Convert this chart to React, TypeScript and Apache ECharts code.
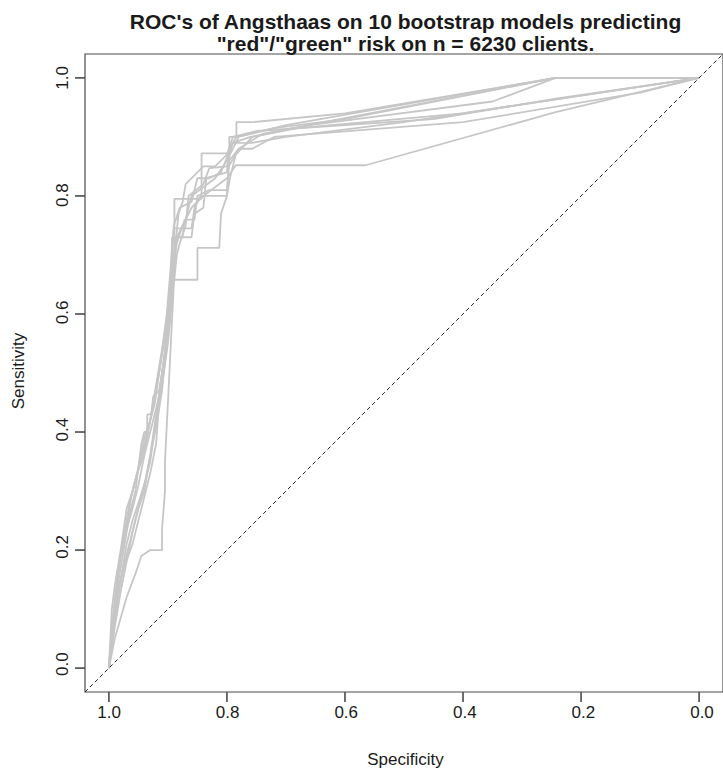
import React, { useEffect, useRef } from "react";
import * as echarts from "echarts";

const titleLines = [
  "ROC's of Angsthaas on 10 bootstrap models predicting",
  "\"red\"/\"green\" risk on n = 6230 clients.",
];
const xAxisTitle = "Specificity";
const yAxisTitle = "Sensitivity";
const tickStep = 0.2;
const specTicks = [1.0, 0.8, 0.6, 0.4, 0.2, 0.0];
const sensTicks = [0.0, 0.2, 0.4, 0.6, 0.8, 1.0];

// Each curve: [specificity, sensitivity]
const roc1: [number, number][] = [[1,0],[0.995,0.06],[0.985,0.14],[0.975,0.2],[0.965,0.26],[0.955,0.3],[0.95,0.34],[0.945,0.38],[0.94,0.40],[0.935,0.40],[0.935,0.43],[0.928,0.43],[0.925,0.46],[0.915,0.47],[0.905,0.53],[0.9,0.6],[0.893,0.66],[0.889,0.70],[0.889,0.795],[0.843,0.795],[0.843,0.872],[0.796,0.872],[0.796,0.9],[0.784,0.9],[0.784,0.925],[0.757,0.925],[0.6,0.94],[0.243,1],[0,1]];
const roc2: [number, number][] = [[1,0],[0.99,0.08],[0.98,0.15],[0.97,0.21],[0.96,0.25],[0.95,0.28],[0.94,0.31],[0.93,0.35],[0.92,0.42],[0.91,0.5],[0.9,0.58],[0.892,0.658],[0.85,0.658],[0.85,0.712],[0.813,0.712],[0.81,0.77],[0.8,0.8],[0.797,0.85],[0.78,0.88],[0.757,0.88],[0.72,0.9],[0.4,0.925],[0.1,0.975],[0,1]];
const roc3: [number, number][] = [[1,0],[0.99,0.05],[0.97,0.12],[0.955,0.16],[0.945,0.19],[0.93,0.2],[0.91,0.2],[0.91,0.235],[0.905,0.3],[0.905,0.35],[0.9,0.45],[0.895,0.55],[0.89,0.65],[0.885,0.7],[0.88,0.72],[0.87,0.75],[0.865,0.8],[0.84,0.82],[0.83,0.847],[0.8,0.85],[0.795,0.87],[0.78,0.9],[0.7,0.92],[0.243,1],[0,1]];
const roc4: [number, number][] = [[1,0],[0.995,0.1],[0.99,0.14],[0.98,0.2],[0.97,0.27],[0.96,0.3],[0.95,0.34],[0.94,0.39],[0.93,0.42],[0.92,0.48],[0.91,0.54],[0.9,0.6],[0.895,0.65],[0.894,0.68],[0.89,0.70],[0.885,0.73],[0.87,0.76],[0.86,0.80],[0.82,0.83],[0.8,0.86],[0.79,0.89],[0.757,0.89],[0.7,0.9],[0.5,0.925],[0.3,0.955],[0,1]];
const roc5: [number, number][] = [[1,0],[0.99,0.07],[0.98,0.13],[0.97,0.18],[0.96,0.23],[0.95,0.27],[0.94,0.3],[0.93,0.36],[0.92,0.43],[0.91,0.5],[0.9,0.57],[0.895,0.62],[0.89,0.68],[0.885,0.72],[0.875,0.75],[0.86,0.78],[0.84,0.80],[0.8,0.83],[0.785,0.852],[0.565,0.852],[0.243,0.942],[0,1]];
const roc6: [number, number][] = [[1,0],[0.993,0.09],[0.985,0.16],[0.975,0.22],[0.965,0.28],[0.955,0.32],[0.945,0.35],[0.935,0.39],[0.925,0.45],[0.915,0.5],[0.905,0.56],[0.897,0.63],[0.894,0.69],[0.893,0.73],[0.875,0.73],[0.872,0.76],[0.855,0.76],[0.85,0.8],[0.83,0.81],[0.8,0.81],[0.796,0.86],[0.78,0.88],[0.74,0.905],[0.243,1],[0,1]];
const roc7: [number, number][] = [[1,0],[0.99,0.11],[0.98,0.19],[0.97,0.235],[0.96,0.27],[0.95,0.31],[0.94,0.36],[0.93,0.4],[0.92,0.44],[0.91,0.48],[0.9,0.55],[0.895,0.6],[0.89,0.66],[0.887,0.72],[0.882,0.77],[0.875,0.79],[0.87,0.82],[0.84,0.85],[0.82,0.85],[0.8,0.87],[0.79,0.9],[0.75,0.91],[0.45,0.93],[0.243,0.965],[0,1]];
const roc8: [number, number][] = [[1,0],[0.996,0.05],[0.985,0.12],[0.975,0.17],[0.96,0.21],[0.95,0.25],[0.94,0.29],[0.93,0.33],[0.92,0.38],[0.915,0.45],[0.905,0.52],[0.9,0.59],[0.896,0.65],[0.893,0.7],[0.89,0.745],[0.86,0.745],[0.855,0.78],[0.845,0.8],[0.8,0.8],[0.795,0.83],[0.785,0.87],[0.757,0.9],[0.68,0.915],[0.4,0.94],[0,1]];
const roc9: [number, number][] = [[1,0],[0.992,0.08],[0.982,0.18],[0.97,0.24],[0.962,0.29],[0.952,0.33],[0.942,0.37],[0.932,0.41],[0.922,0.45],[0.912,0.52],[0.902,0.6],[0.896,0.67],[0.893,0.71],[0.89,0.75],[0.88,0.78],[0.86,0.79],[0.85,0.83],[0.83,0.83],[0.81,0.84],[0.798,0.87],[0.79,0.89],[0.76,0.9],[0.66,0.92],[0.35,0.96],[0.243,1],[0,1]];
const roc10: [number, number][] = [[1,0],[0.994,0.07],[0.988,0.12],[0.978,0.16],[0.968,0.2],[0.958,0.24],[0.948,0.28],[0.938,0.32],[0.928,0.37],[0.918,0.42],[0.91,0.47],[0.903,0.54],[0.898,0.6],[0.894,0.66],[0.891,0.69],[0.888,0.73],[0.86,0.73],[0.855,0.77],[0.84,0.78],[0.835,0.83],[0.8,0.84],[0.796,0.88],[0.784,0.9],[0.72,0.915],[0.6,0.93],[0.243,1],[0,1]];
const rocCurves = [roc1, roc2, roc3, roc4, roc5, roc6, roc7, roc8, roc9, roc10];
const chanceLine: [number, number][] = [[1.0405, -0.0405], [-0.0405, 1.0405]];

const FONT = "'Liberation Sans', Arial, Helvetica, sans-serif";

// plot-box geometry (R's 4% extension around [0,1])
const PAD = 0.0405;
const BOX_LEFT = 85;
const BOX_TOP = 54;
const BOX_W = 641;
const BOX_H = 638;
const UX = BOX_W / (1 + 2 * PAD);
const UY = BOX_H / (1 + 2 * PAD);
const TICK_LEN = 10;

export default function App() {
  const ref = useRef<HTMLDivElement>(null);
  useEffect(() => {
    if (!ref.current) return;
    const chart = echarts.init(ref.current, null, { renderer: "svg" });
    const axisColor = "#4a4a4a";
    const textColor = "#1a1a1a";
    const hiddenAxis = {
      type: "value",
      gridIndex: 0,
      min: -PAD,
      max: 1 + PAD,
      show: false,
      splitLine: { show: false },
    };
    const labelAxisCommon = {
      type: "value",
      gridIndex: 1,
      min: 0,
      max: 1,
      interval: tickStep,
      axisLine: { show: false, onZero: false },
      axisTick: { show: false },
      splitLine: { show: false },
    };
    const titleGraphics = [
      {
        id: "title1",
        type: "text",
        x: 405.5,
        y: 21,
        style: {
          text: titleLines[0],
          fontFamily: FONT,
          fontSize: 21,
          fontWeight: "bold",
          fill: textColor,
          textAlign: "center",
          textVerticalAlign: "middle",
        },
      },
      {
        id: "title2",
        type: "text",
        x: 405.5,
        y: 43,
        style: {
          text: titleLines[1],
          fontFamily: FONT,
          fontSize: 21,
          fontWeight: "bold",
          fill: textColor,
          textAlign: "center",
          textVerticalAlign: "middle",
        },
      },
    ];
    chart.setOption({
      animation: false,
      backgroundColor: "#ffffff",
      textStyle: { fontFamily: FONT },
      grid: [
        {
          left: BOX_LEFT,
          top: BOX_TOP,
          width: BOX_W,
          height: BOX_H,
          show: true,
          borderColor: axisColor,
          borderWidth: 1.2,
          backgroundColor: "transparent",
        },
        {
          left: BOX_LEFT + PAD * UX,
          top: BOX_TOP + PAD * UY,
          width: UX,
          height: UY,
          show: false,
        },
      ],
      graphic: titleGraphics,
      xAxis: [
        { ...hiddenAxis, inverse: true },
        {
          ...labelAxisCommon,
          inverse: true,
          position: "bottom",
          offset: PAD * UY,
          name: xAxisTitle,
          nameLocation: "middle",
          nameGap: 63,
          nameTextStyle: { fontSize: 17, color: textColor, fontFamily: FONT },
          axisLabel: {
            formatter: (v: number) => v.toFixed(1),
            fontSize: 17,
            color: textColor,
            margin: 16,
            fontFamily: FONT,
            showMinLabel: true,
            showMaxLabel: true,
          },
        },
      ],
      yAxis: [
        { ...hiddenAxis },
        {
          ...labelAxisCommon,
          position: "left",
          offset: PAD * UX,
          name: yAxisTitle,
          nameLocation: "middle",
          nameRotate: 90,
          nameGap: 58,
          nameTextStyle: { fontSize: 17, color: textColor, fontFamily: FONT },
          axisLabel: {
            formatter: (v: number) => v.toFixed(1),
            rotate: 90,
            fontSize: 17,
            color: textColor,
            margin: 14,
            fontFamily: FONT,
            showMinLabel: true,
            showMaxLabel: true,
          },
        },
      ],
      series: [
        ...rocCurves.map((c, i) => ({
          name: "Bootstrap " + (i + 1),
          type: "line",
          xAxisIndex: 0,
          yAxisIndex: 0,
          data: c,
          showSymbol: false,
          symbol: "none",
          silent: true,
          clip: false,
          lineStyle: { color: "#c6c6c6", width: 1.8 },
          z: 2,
        })),
        {
          name: "Chance",
          type: "line",
          xAxisIndex: 0,
          yAxisIndex: 0,
          data: chanceLine,
          showSymbol: false,
          symbol: "none",
          silent: true,
          clip: false,
          lineStyle: { color: "#222222", width: 1, type: [4, 3] },
          z: 3,
        },
      ],
    });

    // Tick marks positioned through the chart's own scales
    const tickGraphics: any[] = [];
    specTicks.forEach((v, i) => {
      const p = chart.convertToPixel({ gridIndex: 0 }, [v, -PAD]) as number[];
      if (!p) return;
      tickGraphics.push({
        id: "xt" + i,
        type: "line",
        z: 100,
        shape: { x1: p[0], y1: p[1], x2: p[0], y2: p[1] + TICK_LEN },
        style: { stroke: axisColor, lineWidth: 1.6 },
      });
    });
    sensTicks.forEach((v, i) => {
      const p = chart.convertToPixel({ gridIndex: 0 }, [1 + PAD, v]) as number[];
      if (!p) return;
      tickGraphics.push({
        id: "yt" + i,
        type: "line",
        z: 100,
        shape: { x1: p[0] - TICK_LEN, y1: p[1], x2: p[0], y2: p[1] },
        style: { stroke: axisColor, lineWidth: 1.6 },
      });
    });
    chart.setOption({ graphic: [...titleGraphics, ...tickGraphics] });

    return () => chart.dispose();
  }, []);
  return (
    <div
      ref={ref}
      style={{ position: "absolute", left: 0, top: 0, width: 723, height: 773, background: "#fff" }}
    />
  );
}
